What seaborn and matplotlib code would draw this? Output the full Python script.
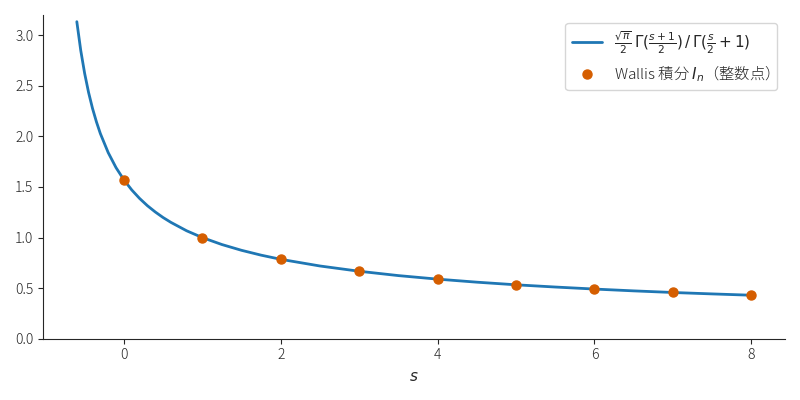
import numpy as np
import pandas as pd
import seaborn as sns
import matplotlib
matplotlib.use("Agg")
import matplotlib.pyplot as plt

# curve values
s_curve = [-0.6, -0.55, -0.5, -0.45, -0.4, -0.35, -0.3, -0.2, -0.1, 0.0,
           0.1, 0.2, 0.3, 0.4, 0.5, 0.6, 0.8, 1.0, 1.25, 1.5, 1.75, 2.0,
           2.5, 3.0, 3.5, 4.0, 4.5, 5.0, 5.5, 6.0, 6.5, 7.0, 7.5, 8.0]
y_curve = [3.134, 2.850, 2.622, 2.434, 2.277, 2.144, 2.028, 1.840, 1.691, 1.571,
           1.471, 1.387, 1.315, 1.253, 1.198, 1.150, 1.067, 1.000, 0.931, 0.874,
           0.826, 0.785, 0.719, 0.667, 0.624, 0.589, 0.559, 0.533, 0.511, 0.491,
           0.473, 0.457, 0.443, 0.430]

# Wallis integrals at integer points
n_pts = [0, 1, 2, 3, 4, 5, 6, 7, 8]
wallis = [1.571, 1.000, 0.785, 0.667, 0.589, 0.533, 0.491, 0.457, 0.430]

sns.set_style("ticks")
plt.rcParams['font.family'] = ['Noto Sans CJK JP', 'DejaVu Sans']

curve = pd.DataFrame({"s": s_curve, "y": y_curve})
pts = pd.DataFrame({"s": n_pts, "y": wallis})

fig, ax = plt.subplots(figsize=(8, 4), dpi=100)
sns.lineplot(data=curve, x="s", y="y", ax=ax, color="#1f77b4", linewidth=2,
             label=r"$\frac{\sqrt{\pi}}{2}\,\Gamma(\frac{s+1}{2})\,/\,\Gamma(\frac{s}{2}+1)$")
ax.plot(pts["s"], pts["y"], "o", color="#d55e00", markersize=6.5, zorder=3,
        label=r"Wallis 積分 $I_n$（整数点）")

ax.set_ylim(0, 3.2)
ax.set_xlabel("$s$", fontsize=11)
ax.set_ylabel("")
ax.tick_params(labelsize=10)
for lab in ax.get_xticklabels() + ax.get_yticklabels():
    lab.set_fontweight("light")
ax.legend(loc="upper right", prop={"size": 11, "weight": "light"})
sns.despine()
fig.tight_layout()
fig.savefig("out.png")
